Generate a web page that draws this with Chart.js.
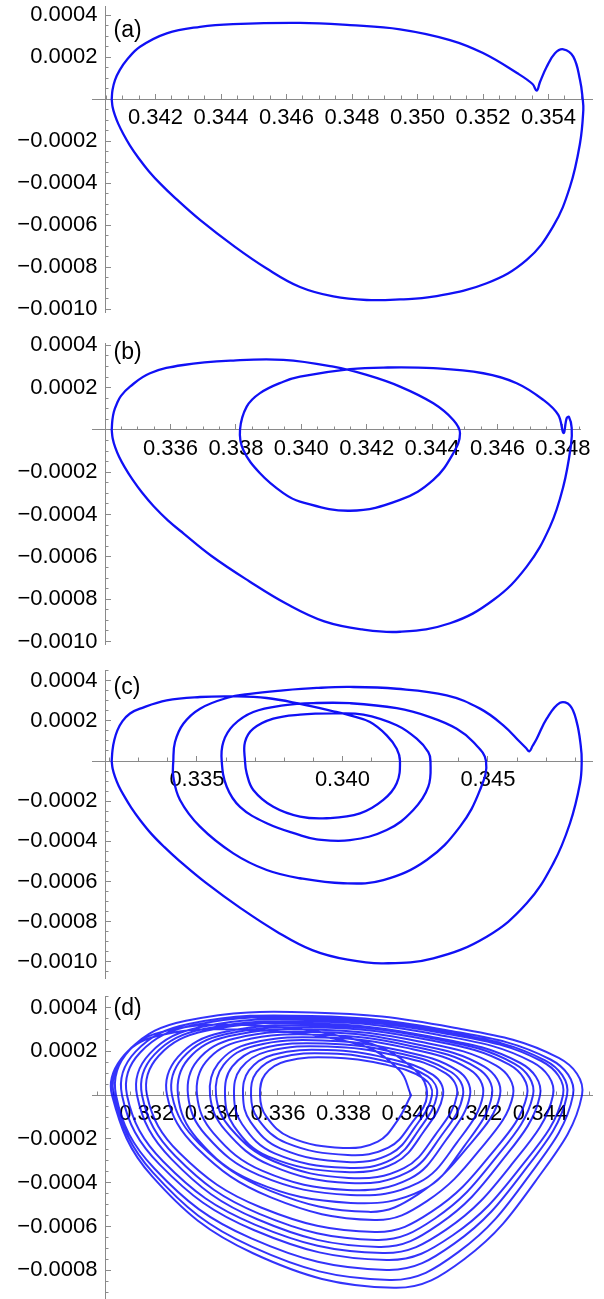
<!DOCTYPE html>
<html>
<head>
<meta charset="utf-8">
<script src="https://cdn.jsdelivr.net/npm/chart.js@4.4.1/dist/chart.umd.min.js"></script>
<style>
html,body{margin:0;padding:0;background:#fff;}
#wrap{position:relative;width:604px;height:1299px;overflow:hidden;background:#fff;}
canvas{position:absolute;left:0;}
</style>
</head>
<body>
<div id="wrap">
<canvas id="ca" width="604" height="328" style="top:0px"></canvas>
<canvas id="cb" width="604" height="330" style="top:328px"></canvas>
<canvas id="cc" width="604" height="332" style="top:658px"></canvas>
<canvas id="cd" width="604" height="309" style="top:990px"></canvas>
</div>
<script>
// ---------- data (x, y) ----------
const curveA = [[0.340663,0],[0.340687,0.0000433],[0.340763,0.0000908],[0.340907,0.000138],[0.341121,0.000186],[0.341527,0.000249],[0.342342,0.000313],[0.343359,0.000344],[0.344366,0.000357],[0.346412,0.000363],[0.347939,0.000352],[0.349466,0.000332],[0.350992,0.000281],[0.352000,0.000219],[0.353038,0.000124],[0.353511,0.0000718],[0.353640,0.000040],[0.353740,0.0000813],[0.353945,0.000154],[0.354198,0.000218],[0.354452,0.000237],[0.354757,0.000202],[0.354962,0.0000908],[0.355044,0],[0.355063,-0.0000518],[0.354962,-0.000210],[0.354656,-0.000417],[0.354137,-0.000607],[0.353334,-0.000765],[0.352113,-0.000876],
[0.350473,-0.000940],[0.349466,-0.000953],[0.348449,-0.000956],[0.347429,-0.000939],[0.346412,-0.000894],[0.345395,-0.000806],[0.344366,-0.000696],[0.343359,-0.000575],[0.342595,-0.000470],[0.342168,-0.000406],[0.341802,-0.000344],[0.341481,-0.000280],[0.341221,-0.000221],[0.341017,-0.000166],[0.340864,-0.000118],[0.340757,-0.0000756],[0.340690,-0.0000376],[0.340663,0]];

const curveB = [[0.334202,0],[0.334223,0.0000473],[0.334266,0.0000851],[0.334355,0.000123],[0.334486,0.000161],[0.334761,0.000205],[0.335373,0.000268],[0.336391,0.000307],[0.337920,0.000328],[0.339450,0.000331],[0.340979,0.000299],[0.342000,0.000260],[0.343018,0.000205],[0.344037,0.000126],[0.344648,0.0000473],[0.344853,-0.0000156],[0.344648,-0.000110],[0.344037,-0.000236],[0.343018,-0.000331],[0.341489,-0.000382],[0.339960,-0.000339],[0.339450,-0.000299],[0.338737,-0.000205],[0.338226,-0.0000946],[0.338125,0],[0.338330,0.000110],[0.338737,0.000174],[0.339450,0.000228],[0.339960,0.000252],[0.341489,0.000287],[0.342508,0.000295],[0.344037,0.000292],[0.345566,0.000268],[0.346587,0.000221],[0.347401,0.000142],[0.347859,0.0000709],[0.348018,-0.0000142],[0.348116,0.0000553],[0.348187,0.0000615],[0.348269,0.0000095],[0.348248,-0.0000709],[0.348012,-0.000268],[0.347606,-0.000457],[0.346893,-0.000646],[0.345872,-0.000804],[0.344547,-0.000914],
[0.343018,-0.000954],[0.341859,-0.000943],[0.340703,-0.000905],[0.339560,-0.000823],[0.338394,-0.000714],[0.337254,-0.000596],[0.336394,-0.000489],[0.335911,-0.000426],[0.335492,-0.000362],[0.335128,-0.000296],[0.334835,-0.000234],[0.334602,-0.000177],[0.334431,-0.000128],[0.334309,-0.0000827],[0.334232,-0.0000402],[0.334202,0]];

const curveC = [[0.332072,0],[0.332100,0.0000548],[0.332162,0.000105],[0.332271,0.000154],[0.332443,0.000199],[0.332701,0.000237],[0.333045,0.000261],[0.333962,0.000302],[0.335107,0.000319],[0.336251,0.000322],[0.337399,0.000314],[0.338543,0.000285],[0.339687,0.000248],[0.340261,0.000227],[0.340948,0.000194],[0.341522,0.000128],[0.341866,0.0000613],[0.341979,0],
[0.341866,-0.000111],[0.341405,-0.000194],[0.340605,-0.000261],[0.339460,-0.000285],[0.338543,-0.000277],[0.337625,-0.000228],[0.336938,-0.000144],[0.336711,-0.0000613],[0.336653,0],
[0.336653,0.0000946],[0.336938,0.000161],[0.337625,0.000211],[0.338543,0.000231],[0.339687,0.000237],[0.340718,0.000231],[0.341866,0.000178],[0.342553,0.000111],[0.342952,0.0000448],[0.343027,0],
[0.342952,-0.000128],[0.342436,-0.000244],[0.341522,-0.000344],[0.340261,-0.000394],[0.339117,-0.000390],[0.338543,-0.000369],[0.337399,-0.000310],[0.336481,-0.000228],[0.336024,-0.000128],[0.335852,0],
[0.335907,0.0000946],[0.336251,0.000178],[0.336938,0.000244],[0.337969,0.000277],[0.339117,0.000289],[0.340261,0.000288],[0.341866,0.000263],[0.343010,0.000219],[0.343928,0.000161],[0.344498,0.0000946],[0.344935,0],
[0.344729,-0.000144],[0.344041,-0.000327],[0.342897,-0.000493],[0.341405,-0.000593],[0.340031,-0.000609],[0.338543,-0.000584],[0.337399,-0.000543],[0.336251,-0.000460],[0.335107,-0.000327],[0.334419,-0.000194],[0.334189,-0.0000782],[0.334189,0],
[0.334247,0.0000946],[0.334533,0.000186],[0.335107,0.000261],[0.336024,0.000314],[0.336825,0.000335],[0.337969,0.000352],[0.339117,0.000364],[0.340261,0.000369],[0.341866,0.000360],[0.343584,0.000327],[0.344729,0.000261],[0.345529,0.000178],[0.346103,0.0000946],[0.346309,0.0000648],[0.346423,0.0000483],[0.346533,0.0000747],[0.346677,0.000111],[0.347021,0.000211],[0.347478,0.000290],[0.347821,0.000277],[0.348052,0.000194],[0.348189,0.0000782],[0.348223,0],
[0.348165,-0.000111],[0.347821,-0.000310],[0.347247,-0.000510],[0.346333,-0.000709],[0.344959,-0.000875],[0.343124,-0.000983],[0.341405,-0.001008],[0.340182,-0.000990],[0.338962,-0.000942],[0.337746,-0.000850],[0.336512,-0.000734],[0.335302,-0.000606],[0.334388,-0.000496],[0.333876,-0.000428],[0.333436,-0.000363],[0.333052,-0.000295],[0.332742,-0.000232],[0.332497,-0.000174],[0.332313,-0.000124],[0.332186,-0.0000787],[0.332105,-0.0000389],[0.332072,0]];

const curveD = [[0.340058,0],
[0.339644,-0.000116],[0.339045,-0.000212],[0.337986,-0.000241],[0.336375,-0.000193],[0.335638,-0.000096],[0.335454,0],
[0.335611,0.000095],[0.336241,0.000155],[0.337656,0.000172],[0.339230,0.000141],[0.340436,0.000077],[0.340698,0],
[0.340179,-0.000146],[0.339430,-0.000268],[0.338105,-0.000305],[0.336088,-0.000244],[0.335166,-0.000122],[0.334936,0],
[0.335119,0.000113],[0.335851,0.000185],[0.337497,0.000206],[0.339327,0.000169],[0.340729,0.000093],[0.341034,0],
[0.340436,-0.000168],[0.339572,-0.000309],[0.338043,-0.000351],[0.335716,-0.000281],[0.334653,-0.000140],[0.334387,0],
[0.334605,0.000130],[0.335475,0.000212],[0.337435,0.000236],[0.339611,0.000194],[0.341280,0.000106],[0.341643,0],
[0.340949,-0.000192],[0.339946,-0.000353],[0.338172,-0.000401],[0.335781,-0.000321],[0.334393,-0.000160],[0.333930,0],
[0.334180,0.000145],[0.335178,0.000237],[0.337426,0.000263],[0.339923,0.000216],[0.341837,0.000118],[0.342253,0],
[0.341444,-0.000219],[0.340274,-0.000401],[0.338206,-0.000456],[0.335418,-0.000365],[0.333799,-0.000182],[0.333259,0],
[0.333544,0.000158],[0.334686,0.000259],[0.337254,0.000288],[0.340108,0.000236],[0.342295,0.000130],[0.342771,0],
[0.341771,-0.000240],[0.340271,-0.000453],[0.338771,-0.000533],[0.335771,-0.000437],[0.333621,-0.000224],[0.332771,0],
[0.333096,0.000170],[0.334395,0.000278],[0.337317,0.000309],[0.340564,0.000253],[0.343054,0.000139],[0.343595,0],
[0.342436,-0.000281],[0.340698,-0.000531],[0.338961,-0.000625],[0.335485,-0.000513],[0.332994,-0.000263],[0.332009,0],
[0.332368,0.000180],[0.333806,0.000294],[0.337041,0.000327],[0.340636,0.000268],[0.343392,0.000147],[0.343991,0],
[0.342762,-0.000312],[0.340919,-0.000589],[0.339076,-0.000693],[0.335390,-0.000568],[0.332748,-0.000291],[0.331704,0],
[0.332094,0.000190],[0.333652,0.000311],[0.337159,0.000345],[0.341055,0.000283],[0.344043,0.000155],[0.344692,0],
[0.343347,-0.000339],[0.341331,-0.000640],[0.339314,-0.000753],[0.335281,-0.000617],[0.332390,-0.000316],[0.331247,0],
[0.331660,0.000199],[0.333310,0.000326],[0.337022,0.000362],[0.341147,0.000297],[0.344310,0.000163],[0.344997,0],
[0.343598,-0.000380],[0.341498,-0.000717],[0.339399,-0.000844],[0.335201,-0.000692],[0.332192,-0.000354],[0.331003,0],
[0.331289,0.000176],[0.332434,0.000288],[0.335011,0.000320],[0.338600,0.000245],[0.340150,0.000120],[0.340546,0],
[0.340063,-0.000131],[0.339365,-0.000240],[0.338131,-0.000273],[0.336253,-0.000218],[0.335395,-0.000109],[0.335180,0],
[0.335350,0.000105],[0.336031,0.000171],[0.337562,0.000190],[0.339263,0.000156],[0.340567,0.0000855],[0.340851,0],
[0.340294,-0.000159],[0.339489,-0.000292],[0.338066,-0.000332],[0.335900,-0.000266],[0.334910,-0.000133],[0.334662,0],
[0.334866,0.000122],[0.335682,0.000200],[0.337517,0.000222],[0.339557,0.000182],[0.341120,0.0000999],[0.341460,0],
[0.340799,-0.000181],[0.339844,-0.000333],[0.338154,-0.000378],[0.335876,-0.000302],[0.334554,-0.000151],[0.334113,0],
[0.334345,0.000138],[0.335275,0.000225],[0.337365,0.000250],[0.339689,0.000205],[0.341470,0.000113],[0.341857,0],
[0.341108,-0.000208],[0.340026,-0.000381],[0.338112,-0.000433],[0.335532,-0.000346],[0.334033,-0.000173],[0.333534,0],
[0.333804,0.000152],[0.334883,0.000248],[0.337311,0.000276],[0.340009,0.000226],[0.342077,0.000124],[0.342527,0],
[0.341665,-0.000236],[0.340421,-0.000433],[0.338219,-0.000492],[0.335252,-0.000394],[0.333528,-0.000197],[0.332954,0],
[0.333260,0.000164],[0.334486,0.000269],[0.337244,0.000299],[0.340308,0.000245],[0.342657,0.000135],[0.343168,0],
[0.342113,-0.000257],[0.340531,-0.000485],[0.338948,-0.000570],[0.335784,-0.000467],[0.333516,-0.000239],[0.332619,0],
[0.332954,0.000175],[0.334293,0.000286],[0.337305,0.000318],[0.340653,0.000261],[0.343219,0.000143],[0.343777,0],
[0.342585,-0.000297],[0.340797,-0.000562],[0.339009,-0.000661],[0.335433,-0.000542],[0.332870,-0.000278],[0.331857,0],
[0.332233,0.000185],[0.333737,0.000302],[0.337120,0.000336],[0.340879,0.000276],[0.343761,0.000151],[0.344387,0],
[0.343088,-0.000324],[0.341140,-0.000613],[0.339192,-0.000721],[0.335295,-0.000591],[0.332503,-0.000303],[0.331399,0],
[0.331801,0.000195],[0.333411,0.000319],[0.337033,0.000354],[0.341058,0.000290],[0.344143,0.000159],[0.344814,0],
[0.343439,-0.000359],[0.341376,-0.000678],[0.339314,-0.000798],[0.335189,-0.000654],[0.332233,-0.000335],[0.331064,0],
[0.331490,0.000208],[0.333195,0.000340],[0.337031,0.000378],[0.341293,0.000310],[0.344561,0.000170],[0.345271,0],
[0.343838,-0.000396],[0.341689,-0.000748],[0.339539,-0.000880],[0.335241,-0.000722],[0.332160,-0.000370],[0.330942,0],
[0.331215,0.000165],[0.332309,0.000270],[0.334771,0.000300],[0.338400,0.000235],[0.339700,0.000115],[0.340058,0]];

// ---------- tick values and labels ----------
const xTicksA = [0.342,0.344,0.346,0.348,0.350,0.352,0.354];
const xLabelsA = ["0.342","0.344","0.346","0.348","0.350","0.352","0.354"];
const xTicksB = [0.336,0.338,0.340,0.342,0.344,0.346,0.348];
const xLabelsB = ["0.336","0.338","0.340","0.342","0.344","0.346","0.348"];
const xTicksC = [0.335,0.340,0.345];
const xLabelsC = ["0.335","0.340","0.345"];
const xTicksD = [0.332,0.334,0.336,0.338,0.340,0.342,0.344];
const xLabelsD = ["0.332","0.334","0.336","0.338","0.340","0.342","0.344"];
const yTicksABC = [-0.0010,-0.0008,-0.0006,-0.0004,-0.0002,0.0002,0.0004];
const yLabelsABC = ["\u22120.0010","\u22120.0008","\u22120.0006","\u22120.0004","\u22120.0002","0.0002","0.0004"];
const yTicksD = [-0.0008,-0.0006,-0.0004,-0.0002,0.0002,0.0004];
const yLabelsD = ["\u22120.0008","\u22120.0006","\u22120.0004","\u22120.0002","0.0002","0.0004"];
const panelNames = ["(a)","(b)","(c)","(d)"];

// ---------- helpers ----------
const FONT = "'Liberation Sans', Arial, Helvetica, sans-serif";
const AXIS = '#8a8a8a';
const BLUE = '#1010f5';

function steps(min, max, step) {
  const out = [];
  const i0 = Math.ceil(min / step - 1e-7), i1 = Math.floor(max / step + 1e-7);
  for (let i = i0; i <= i1; i++) out.push(+(i * step).toFixed(7));
  return out;
}
function fixedTicks(values) { return scale => { scale.ticks = values.map(v => ({value: v})); }; }
function noSpace(scale) {
  scale.paddingLeft = 0; scale.paddingRight = 0; scale.paddingTop = 0; scale.paddingBottom = 0;
  if (scale.isHorizontal()) scale.height = 0; else scale.width = 0;
}

const panelLabelPlugin = {
  id: 'panelLabel',
  afterDraw(chart, args, opts) {
    const ctx = chart.ctx;
    ctx.save();
    ctx.font = opts.size + 'px ' + FONT;
    ctx.fillStyle = '#000';
    ctx.textAlign = 'left';
    ctx.textBaseline = 'middle';
    ctx.fillText(opts.text, opts.x, opts.y);
    ctx.restore();
  }
};

function makePanel(id, p) {
  const common = {type: 'linear', bounds: 'data', afterFit: noSpace};
  const xMinor = steps(p.xMin, p.xMax, p.xMinorStep);
  const yMinor = steps(p.yMin, p.yMax, 0.00005);
  const scales = {
    x: Object.assign({}, common, {
      axis: 'x', min: p.xMin, max: p.xMax, position: {y: 0},
      afterBuildTicks: fixedTicks(p.xTicks),
      grid: {display: true, drawOnChartArea: false, drawTicks: true, tickLength: -6, color: AXIS, lineWidth: 1},
      border: {display: true, color: AXIS, width: 1},
      ticks: {display: true, autoSkip: false, maxRotation: 0, minRotation: 0, padding: 12, color: '#000',
              font: {family: FONT, size: 22}, callback: (v, i) => p.xLabels[i]}
    }),
    xm: Object.assign({}, common, {
      axis: 'x', min: p.xMin, max: p.xMax, position: {y: 0},
      afterBuildTicks: fixedTicks(xMinor),
      grid: {display: true, drawOnChartArea: false, drawTicks: true, tickLength: -3.5, color: AXIS, lineWidth: 1},
      border: {display: false},
      ticks: {display: false, autoSkip: false}
    }),
    y: Object.assign({}, common, {
      axis: 'y', min: p.yMin, max: p.yMax, position: {x: p.yAxisAt},
      afterBuildTicks: fixedTicks(p.yTicks),
      grid: {display: true, drawOnChartArea: false, drawTicks: true, tickLength: -6, color: AXIS, lineWidth: 1},
      border: {display: true, color: AXIS, width: 1},
      ticks: {display: false, autoSkip: false}
    }),
    ym: Object.assign({}, common, {
      axis: 'y', min: p.yMin, max: p.yMax, position: {x: p.yAxisAt},
      afterBuildTicks: fixedTicks(yMinor),
      grid: {display: true, drawOnChartArea: false, drawTicks: true, tickLength: -3.5, color: AXIS, lineWidth: 1},
      border: {display: false},
      ticks: {display: false, autoSkip: false}
    }),
    yl: Object.assign({}, common, {
      axis: 'y', min: p.yMin, max: p.yMax, position: {x: p.yLabelAt},
      afterBuildTicks: fixedTicks(p.yTicks),
      grid: {display: false},
      border: {display: false},
      ticks: {display: true, autoSkip: false, color: '#000', font: {family: FONT, size: 22},
              callback: (v, i) => p.yLabels[i]}
    })
  };
  return new Chart(document.getElementById(id), {
    type: 'line',
    data: {datasets: [{
      data: p.curve.map(q => ({x: q[0], y: q[1]})),
      xAxisID: 'x', yAxisID: 'y',
      fill: false, pointRadius: 0, pointHoverRadius: 0, pointHitRadius: 0,
      borderColor: p.color, borderWidth: p.width, tension: p.tension,
      cubicInterpolationMode: 'default', borderJoinStyle: 'round', borderCapStyle: 'round'
    }]},
    options: {
      responsive: false, maintainAspectRatio: false, animation: false, devicePixelRatio: 1, events: [],
      layout: {autoPadding: false, padding: p.pad},
      scales: scales,
      plugins: {legend: {display: false}, tooltip: {enabled: false},
                panelLabel: {text: p.name, x: 113.5, y: p.labelY, size: 23}}
    },
    plugins: [panelLabelPlugin]
  });
}

makePanel('ca', {curve: curveA, name: panelNames[0], labelY: 31,
  xMin: 0.340061, xMax: 0.355328, yMin: -0.001013, yMax: 0.000443,
  yAxisAt: 0.340458, yLabelAt: 0.340229, xTicks: xTicksA, xLabels: xLabelsA, xMinorStep: 0.0005,
  yTicks: yTicksABC, yLabels: yLabelsABC, pad: {left: 92, right: 12, top: 6, bottom: 16},
  color: BLUE, width: 2.3, tension: 0.4});

makePanel('cb', {curve: curveB, name: panelNames[1], labelY: 25,
  xMin: 0.333599, xMax: 0.348523, yMin: -0.001012, yMax: 0.000411,
  yAxisAt: 0.334, yLabelAt: 0.333768, xTicks: xTicksB, xLabels: xLabelsB, xMinorStep: 0.0005,
  yTicks: yTicksABC, yLabels: yLabelsABC, pad: {left: 92, right: 24, top: 15, bottom: 14},
  color: BLUE, width: 2.3, tension: 0.4});

makePanel('cc', {curve: curveC, name: panelNames[2], labelY: 30,
  xMin: 0.331395, xMax: 0.348577, yMin: -0.001081, yMax: 0.000450,
  yAxisAt: 0.331842, yLabelAt: 0.331584, xTicks: xTicksC, xLabels: xLabelsC, xMinorStep: 0.001,
  yTicks: yTicksABC, yLabels: yLabelsABC, pad: {left: 92, right: 12, top: 12.7, bottom: 12},
  color: BLUE, width: 2.3, tension: 0.4});

makePanel('cd', {curve: curveD, name: panelNames[3], labelY: 19,
  xMin: 0.330332, xMax: 0.345576, yMin: -0.000931, yMax: 0.000453,
  yAxisAt: 0.330729, yLabelAt: 0.3305, xTicks: xTicksD, xLabels: xLabelsD, xMinorStep: 0.0005,
  yTicks: yTicksD, yLabels: yLabelsD, pad: {left: 92, right: 12, top: 6, bottom: 0},
  color: 'rgba(0,0,250,0.8)', width: 2, tension: 0.4});
</script>
</body>
</html>
